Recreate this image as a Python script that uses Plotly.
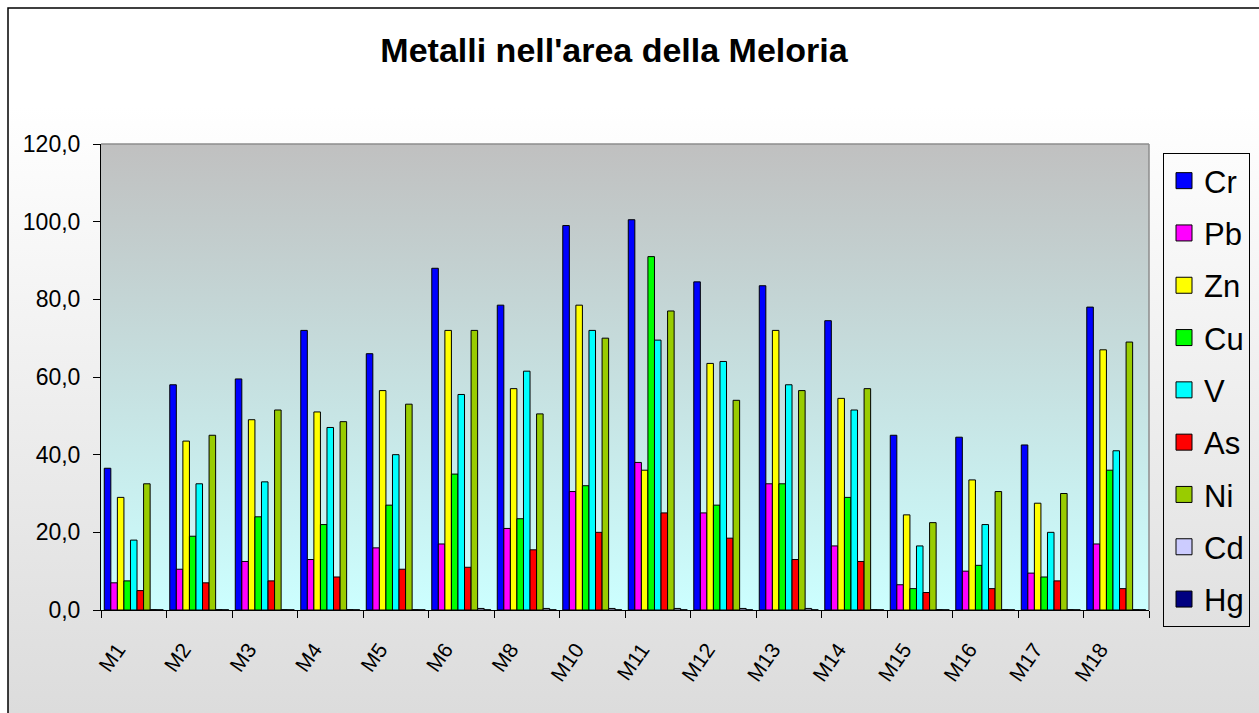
import base64
import plotly.graph_objects as go

# Sampling sites
sites = ["M1", "M2", "M3", "M4", "M5", "M6", "M8", "M10", "M11",
         "M12", "M13", "M14", "M15", "M16", "M17", "M18"]

# Metal concentrations per site
cr = [36.5, 58.0, 59.5, 72.0, 66.0, 88.0, 78.5, 99.0, 100.5, 84.5, 83.5, 74.5, 45.0, 44.5, 42.5, 78.0]
pb = [7.0, 10.5, 12.5, 13.0, 16.0, 17.0, 21.0, 30.5, 38.0, 25.0, 32.5, 16.5, 6.5, 10.0, 9.5, 17.0]
zn = [29.0, 43.5, 49.0, 51.0, 56.5, 72.0, 57.0, 78.5, 36.0, 63.5, 72.0, 54.5, 24.5, 33.5, 27.5, 67.0]
cu = [7.5, 19.0, 24.0, 22.0, 27.0, 35.0, 23.5, 32.0, 91.0, 27.0, 32.5, 29.0, 5.5, 11.5, 8.5, 36.0]
v = [18.0, 32.5, 33.0, 47.0, 40.0, 55.5, 61.5, 72.0, 69.5, 64.0, 58.0, 51.5, 16.5, 22.0, 20.0, 41.0]
as_ = [5.0, 7.0, 7.5, 8.5, 10.5, 11.0, 15.5, 20.0, 25.0, 18.5, 13.0, 12.5, 4.5, 5.5, 7.5, 5.5]
ni = [32.5, 45.0, 51.5, 48.5, 53.0, 72.0, 50.5, 70.0, 77.0, 54.0, 56.5, 57.0, 22.5, 30.5, 30.0, 69.0]
cd = [0.1, 0.1, 0.1, 0.1, 0.1, 0.4, 0.4, 0.4, 0.4, 0.4, 0.4, 0.1, 0.1, 0.1, 0.1, 0.1]
hg = [0.05] * 16

metals = ["Cr", "Pb", "Zn", "Cu", "V", "As", "Ni", "Cd", "Hg"]
values = [cr, pb, zn, cu, v, as_, ni, cd, hg]
colors = ["#0000ff", "#ff00ff", "#ffff00", "#00ff00", "#00ffff",
          "#ff0000", "#99cc00", "#ccccff", "#000080"]

W, H = 1259, 713
L, R, T, B = 101, 1149, 144, 610  # plot area in pixels


def fx(p):
    return (p - L) / (R - L)


def fy(p):
    return (B - p) / (B - T)


def svg_gradient(stops):
    st = "".join(f'<stop offset="{o}" stop-color="{c}"/>' for o, c in stops)
    svg = ('<svg xmlns="http://www.w3.org/2000/svg" width="10" height="100" '
           'preserveAspectRatio="none">'
           f'<defs><linearGradient id="g" x1="0" y1="0" x2="0" y2="1">{st}'
           '</linearGradient></defs><rect width="10" height="100" fill="url(#g)"/></svg>')
    return "data:image/svg+xml;base64," + base64.b64encode(svg.encode()).decode()


fig = go.Figure()

for name, vals, col in zip(metals, values, colors):
    fig.add_trace(go.Bar(
        x=sites, y=vals, name=name, legendgroup=name, showlegend=False,
        marker=dict(color=col, line=dict(color="black", width=1)),
    ))

# Legend entries with larger square swatches
for name, col in zip(metals, colors):
    fig.add_trace(go.Scatter(
        x=[None], y=[None], mode="markers", name=name, legendgroup=name,
        marker=dict(symbol="square", size=16, color=col,
                    line=dict(color="black", width=1)),
    ))

font_family = "Liberation Sans, Arial, sans-serif"

fig.update_layout(
    width=W, height=H,
    margin=dict(l=L, r=W - R, t=T, b=H - B, autoexpand=False),
    paper_bgcolor="white",
    plot_bgcolor="rgba(0,0,0,0)",
    separators=",.",
    barmode="group", bargap=0.1, bargroupgap=0,
    font=dict(family=font_family, color="black"),
    title=dict(text="Metalli nell'area della Meloria",
               font=dict(size=34, weight="bold", family=font_family),
               x=614 / W, xref="container", xanchor="center",
               y=1 - 50 / H, yref="container", yanchor="middle"),
    legend=dict(
        x=fx(1163), y=fy(153), xanchor="left", yanchor="top",
        xref="paper", yref="paper",
        bordercolor="black", borderwidth=1, bgcolor="rgba(0,0,0,0)",
        font=dict(size=31, family=font_family),
        itemsizing="trace", tracegroupgap=9, traceorder="grouped",
        maxheight=700,
    ),
    xaxis=dict(
        type="category", showline=True, linecolor="black", linewidth=1,
        ticks="outside", ticklen=7, tickcolor="black", tickson="boundaries",
        tickangle=-55, tickfont=dict(size=21), showgrid=False, zeroline=False,
        ticklabelstandoff=18, ticklabelshift=-16,
    ),
    yaxis=dict(
        range=[0, 120], dtick=20, tickformat=".1f",
        showline=True, linecolor="black", linewidth=1,
        ticks="outside", ticklen=7, tickcolor="black",
        tickfont=dict(size=23), showgrid=False, zeroline=False,
        ticklabelstandoff=8,
    ),
    images=[
        # outer chart background
        dict(source=svg_gradient([(0, "#ffffff"), (0.14, "#ffffff"), (1, "#dcdcdc")]),
             xref="paper", yref="paper", x=fx(8), y=fy(8),
             sizex=fx(W) - fx(8), sizey=fy(8) - fy(H),
             sizing="stretch", xanchor="left", yanchor="top", layer="below"),
        # plot area background
        dict(source=svg_gradient([(0, "#c0c0c0"), (1, "#ccffff")]),
             xref="paper", yref="paper", x=0, y=1, sizex=1, sizey=1,
             sizing="stretch", xanchor="left", yanchor="top", layer="below"),
    ],
    shapes=[
        # chart frame
        dict(type="rect", xref="paper", yref="paper",
             x0=fx(8), y0=fy(H + 5), x1=fx(W + 5), y1=fy(8),
             line=dict(color="black", width=1.5), layer="above"),
        # plot area top and right edges
        dict(type="line", xref="paper", yref="paper", x0=0, y0=1, x1=1, y1=1,
             line=dict(color="#8c8c8c", width=1.5), layer="above"),
        dict(type="line", xref="paper", yref="paper", x0=1, y0=0, x1=1, y1=1,
             line=dict(color="#8c8c8c", width=1.5), layer="above"),
    ],
)

fig.write_html("out.html")
